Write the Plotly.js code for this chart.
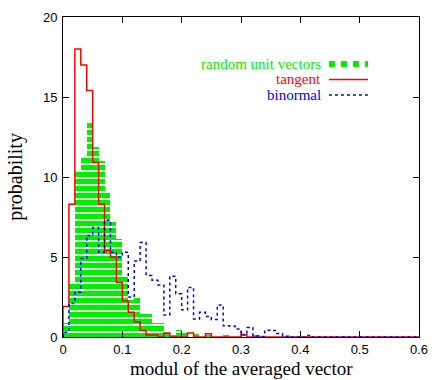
<!DOCTYPE html>
<html>
<head>
<meta charset="utf-8">
<script src="https://cdn.plot.ly/plotly-3.0.1.min.js"></script>
<style>
  html, body { margin: 0; padding: 0; background: #fff; }
  #chart { width: 443px; height: 380px; }
</style>
</head>
<body>
<div id="chart"></div>
<script>
// histogram bins of width 0.01 starting at 0
const binWidth = 0.01;
const binCount = 60;

const randomVectors = [0.85, 3.35, 10.4, 11.2, 13.4, 11.9, 11.0, 9.1, 7.2, 6.15,
  3.8, 2.3, 2.5, 1.45, 1.45, 0.85, 0.85, 0.3, 0.12, 0.45,
  0.33, 0, 0.19, 0, 0.12, 0, 0, 0.1, 0, 0,
  0, 0, 0.1];

const tangent = [1.9, 8.3, 18.0, 17.0, 15.4, 10.9, 8.3, 5.4, 5.0, 3.4,
  2.25, 1.55, 0.95, 0.4, 0.12, 0.12, 0, 0.25, 0, 0,
  0, 0.25, 0, 0, 0.2, 0, 0, 0, 0, 0,
  0.15];

const binormal = [0.3, 2.1, 2.8, 4.9, 6.35, 6.85, 5.3, 7.3, 5.3, 5.0,
  5.3, 2.5, 4.75, 5.9, 3.85, 3.55, 3.25, 1.37, 3.8, 2.7,
  1.7, 3.1, 1.12, 1.54, 1.28, 1.1, 2.0, 0.7, 0.68, 0.5,
  0.12, 0.6, 0.07, 0.03, 0.42, 0.4, 0.22, 0.05, 0, 0,
  0, 0.1];

const xTicks = [0, 0.1, 0.2, 0.3, 0.4, 0.5, 0.6];
const xTickText = ["0", "0.1", "0.2", "0.3", "0.4", "0.5", "0.6"];
const yTicks = [0, 5, 10, 15, 20];

const xTitle = "modul of the averaged vector";
const yTitle = "probability";
const seriesNames = ["random unit vectors", "tangent", "binormal"];
const seriesColors = ["#00ee00", "#ff0000", "#0000ff"];

const serif = "Liberation Serif, Times New Roman, serif";

function padBins(values) {
  const out = [];
  for (let i = 0; i < binCount; i++) out.push(values[i] || 0);
  return out;
}

function stepTrace(values, name, color, dash) {
  const v = padBins(values);
  const x = [0];
  const y = [0];
  v.forEach((val, i) => {
    x.push(i * binWidth);
    y.push(val);
  });
  x.push(binCount * binWidth);
  y.push(v[v.length - 1]);
  return {
    x,
    y,
    name,
    mode: "lines",
    line: { color, width: 1.5, shape: "hv", dash },
    showlegend: false,
    hoverinfo: "skip"
  };
}

const randomBins = padBins(randomVectors);
const barTrace = {
  type: "bar",
  x: randomBins.map((_, i) => (i + 0.5) * binWidth),
  y: randomBins,
  width: binWidth,
  name: seriesNames[0],
  marker: {
    color: "white",
    line: { width: 0 },
    pattern: {
      shape: "-",
      fgcolor: seriesColors[0],
      bgcolor: "white",
      size: 7,
      solidity: 0.75,
      fillmode: "replace"
    }
  },
  showlegend: false,
  hoverinfo: "skip"
};

const traces = [
  barTrace,
  stepTrace(tangent, seriesNames[1], seriesColors[1], "solid"),
  stepTrace(binormal, seriesNames[2], seriesColors[2], "dot")
];

// gnuplot-style key: text right-aligned, sample line to the right
const keyTextX = 0.7275;
const keySampleX = [0.747, 0.857];
const keyRowsY = [0.853, 0.805, 0.756];
const keyDash = ["dot", "solid", "dot"];
const keyWidth = [6, 1.5, 1.5];

const annotations = seriesNames.map((name, i) => ({
  xref: "paper",
  yref: "paper",
  x: keyTextX,
  y: keyRowsY[i],
  xanchor: "right",
  yanchor: "middle",
  text: name,
  showarrow: false,
  borderpad: 0,
  font: { family: serif, size: 15, color: seriesColors[i] }
}));

// x axis title placed by hand so it clears the tick labels and the bottom edge
annotations.push({
  xref: "paper",
  yref: "paper",
  x: 0.5,
  y: -0.133,
  xanchor: "center",
  yanchor: "bottom",
  text: xTitle,
  showarrow: false,
  borderpad: 0,
  font: { family: serif, size: 19, color: "#000" }
});

const shapes = seriesNames.map((name, i) => ({
  type: "line",
  xref: "paper",
  yref: "paper",
  x0: keySampleX[0],
  x1: keySampleX[1],
  y0: keyRowsY[i],
  y1: keyRowsY[i],
  line: { color: seriesColors[i], width: keyWidth[i], dash: keyDash[i] }
}));

const axisCommon = {
  showline: true,
  linecolor: "#000",
  linewidth: 1,
  mirror: "ticks",
  ticks: "inside",
  ticklen: 6,
  tickcolor: "#000",
  showgrid: false,
  zeroline: false,
  tickfont: { family: "Liberation Sans, Arial, sans-serif", size: 13, color: "#000" }
};

Plotly.newPlot("chart", traces, {
  width: 443,
  height: 380,
  margin: { t: 17, r: 24, l: 63, b: 43 },
  paper_bgcolor: "#fff",
  plot_bgcolor: "#fff",
  bargap: 0,
  showlegend: false,
  xaxis: Object.assign({}, axisCommon, {
    range: [0, 0.6],
    tickvals: xTicks,
    ticktext: xTickText,
    ticklabelstandoff: 0
  }),
  yaxis: Object.assign({}, axisCommon, {
    range: [0, 20],
    tickvals: yTicks,
    ticklabelstandoff: 2,
    title: {
      text: yTitle,
      font: { family: serif, size: 20, color: "#000" },
      standoff: 14
    }
  }),
  annotations,
  shapes
}, { displayModeBar: false, staticPlot: true });
</script>
</body>
</html>
